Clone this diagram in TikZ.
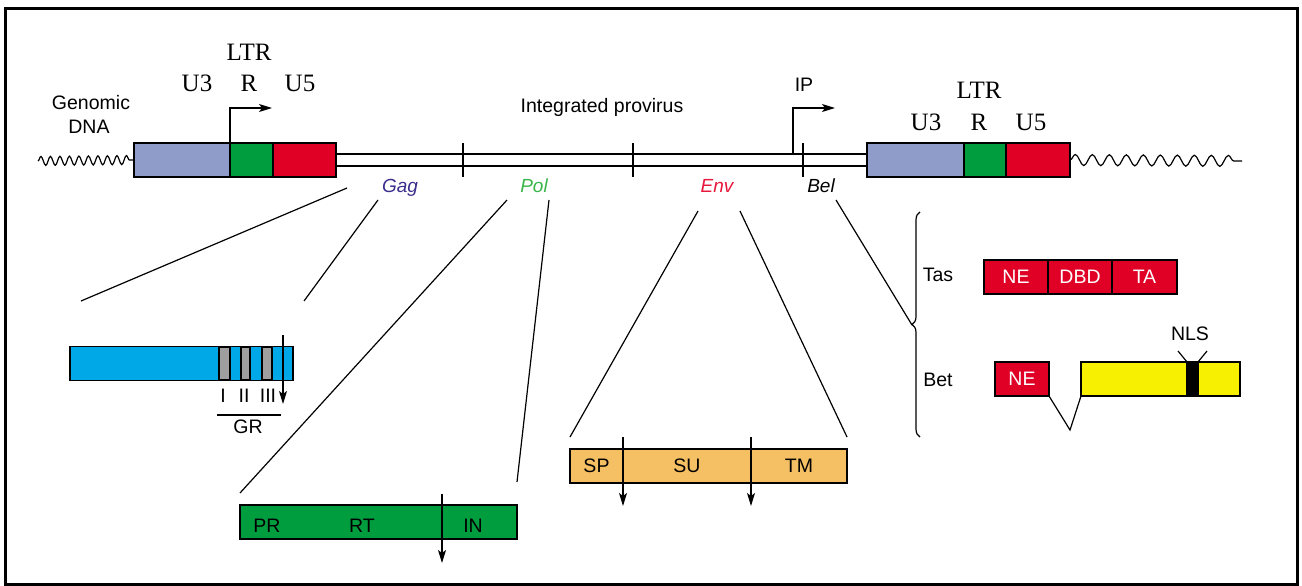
\documentclass[tikz,border=0pt]{standalone}
\usepackage{fontspec}
\setmainfont{Liberation Sans}
\newfontfamily\ltrfont{Liberation Serif}
\usetikzlibrary{arrows.meta,decorations.pathmorphing,decorations.pathreplacing}

\definecolor{ltrblue}{HTML}{8F9BC9}
\definecolor{ltrgreen}{HTML}{009D3F}
\definecolor{ltrred}{HTML}{E00026}
\definecolor{gagblue}{HTML}{00A8E8}
\definecolor{envorange}{HTML}{F5C063}
\definecolor{betyellow}{HTML}{F7F000}
\definecolor{gagtext}{HTML}{3B2E8C}
\definecolor{poltext}{HTML}{39B54A}
\definecolor{envtext}{HTML}{E8173C}

\tikzset{
	seg/.style={draw,line width=2pt,minimum height=34pt,inner sep=0pt,outer sep=0pt,anchor=west},
	dom/.style={draw,line width=1.3pt,minimum height=34pt,inner sep=0pt,outer sep=0pt,anchor=west,font=\fontsize{19.5}{23}\selectfont},
	txt/.style={font=\fontsize{19.5}{23}\selectfont,inner sep=0pt,anchor=base},
	serif/.style={font=\ltrfont\fontsize{25}{28}\selectfont,inner sep=0pt,anchor=base},
	gene/.style={font=\fontsize{19}{23}\selectfont\itshape,inner sep=0pt,anchor=base},
	fan/.style={line width=1.2pt},
	cut/.style={line width=1.3pt,-{Stealth[length=13pt,width=8pt,inset=3pt]}},
}

\begin{document}
\begin{tikzpicture}[x=1pt,y=-1pt]
	\useasboundingbox (0,0) rectangle (1302,586);
	\draw[line width=3.5pt] (5.5,8.5) rectangle (1297.5,584.5);

	\node[seg,fill=ltrblue,minimum width=96pt] (u3l) at (134,160) {};
	\node[seg,fill=ltrgreen,minimum width=43pt] (rl) at (u3l.east) {};
	\node[seg,fill=ltrred,minimum width=63pt] (u5l) at (rl.east) {};
	\node[seg,fill=ltrblue,minimum width=97pt] (u3r) at (867,160) {};
	\node[seg,fill=ltrgreen,minimum width=42pt] (rr) at (u3r.east) {};
	\node[seg,fill=ltrred,minimum width=64pt] (u5r) at (rr.east) {};
	\draw[double,double distance=10.5pt,line width=1.5pt] ([xshift=1pt]u5l.east) -- ([xshift=-1pt]u3r.west);
	\foreach \x in {463,633,803}
		\draw[line width=2pt] (\x,143) -- (\x,177);

	\coordinate (wavel) at (38,161);
	\coordinate (waver) at (1242,161);
	\draw[line width=1.2pt,decorate,decoration={snake,segment length=9.5pt,amplitude=4.5pt}] (wavel) -- (u3l.west);
	\draw[line width=1.2pt,decorate,decoration={snake,segment length=17pt,amplitude=5.5pt}] (u5r.east) -- (waver);

	\coordinate (tssl) at (272,108);
	\draw[cut] (rl.north west) |- (tssl);
	\coordinate (ipbase) at (793,154);
	\coordinate (ipend) at (835,108);
	\draw[cut] (ipbase) |- (ipend);

	\node[serif] (ltrlt) at (249,61) {LTR};
	\node[serif] (u3lt) at (197,92) {U3};
	\node[serif] (rlt) at (249,92) {R};
	\node[serif] (u5lt) at (300,92) {U5};
	\node[serif] (ltrrt) at (979,99) {LTR};
	\node[serif] (u3rt) at (926,130) {U3};
	\node[serif] (rrt) at (979,130) {R};
	\node[serif] (u5rt) at (1031,130) {U5};
	\node[txt] (genomic) at (91,110) {Genomic};
	\node[txt] (dna) at (89,133) {DNA};
	\node[txt] (intprov) at (602,113) {Integrated provirus};
	\node[txt] (ip) at (804,92) {IP};

	\node[gene,text=gagtext] (gag) at (400,192) {Gag};
	\node[gene,text=poltext] (pol) at (534,192) {Pol};
	\node[gene,text=envtext] (env) at (717,192) {Env};
	\node[gene] (bel) at (821,192) {Bel};

	\node[dom,fill=gagblue,minimum width=223pt] (gagbox) at (70,363.5) {};
	\foreach \a/\b in {219/230,241/250,262/272}
		\draw[line width=1.2pt,fill=gray!75] (\a,347) rectangle (\b,380);
	\draw[cut] (283,335) -- (283,404);
	\node[txt] (gr1) at (223,402) {I};
	\node[txt] (gr2) at (244,402) {II};
	\node[txt] (gr3) at (268,402) {III};
	\draw[line width=1.2pt] (217,415) -- (281,415);
	\node[txt] (gr) at (248,433) {GR};

	\node[dom,fill=ltrgreen,minimum width=277pt] (polbox) at (240,522) {};
	\node[txt] (pr) at (267,532) {PR};
	\node[txt] (rt) at (362,532) {RT};
	\node[txt] (in) at (473,532) {IN};
	\draw[cut] (442,494) -- (442,563);

	\node[dom,fill=envorange,minimum width=53pt] (sp) at (570,466) {SP};
	\node[dom,fill=envorange,minimum width=128pt] (su) at (sp.east) {SU};
	\node[dom,fill=envorange,minimum width=96pt] (tm) at (su.east) {TM};
	\draw[cut] ([yshift=12pt]sp.north east) -- ([yshift=-23pt]sp.south east);
	\draw[cut] ([yshift=12pt]su.north east) -- ([yshift=-23pt]su.south east);

	\coordinate (gagla) at (347,188);
	\coordinate (gaglb) at (81,301);
	\coordinate (gagra) at (378,200);
	\coordinate (gagrb) at (304,301);
	\coordinate (polla) at (507,200);
	\coordinate (polra) at (549,200);
	\coordinate (envla) at (698,211);
	\coordinate (envra) at (740,211);
	\coordinate (bela) at (836,200);
	\coordinate (bracetip) at (912,325);
	\draw[fan] (gagla) -- (gaglb);
	\draw[fan] (gagra) -- (gagrb);
	\draw[fan] (polla) -- ([yshift=12pt]polbox.north west);
	\draw[fan] (polra) -- ([yshift=23pt]polbox.north east);
	\draw[fan] (envla) -- ([yshift=12pt]sp.north west);
	\draw[fan] (envra) -- ([yshift=12pt]tm.north east);
	\draw[fan] (bela) -- (bracetip);
	\draw[line width=1.2pt,decorate,decoration={brace,amplitude=8pt}] (920,437) -- (920,212);

	\node[txt] (tas) at (938,281) {Tas};
	\node[dom,fill=ltrred,text=white,minimum width=64pt] (tasne) at (984,277) {NE};
	\node[dom,fill=ltrred,text=white,minimum width=64pt] (dbd) at (tasne.east) {DBD};
	\node[dom,fill=ltrred,text=white,minimum width=65pt] (ta) at (dbd.east) {TA};

	\node[txt] (bet) at (938,386) {Bet};
	\node[dom,fill=ltrred,text=white,minimum width=54pt] (betne) at (995,379) {NE};
	\node[dom,fill=betyellow,minimum width=159pt] (betorf) at (1081,379) {};
	\node[dom,fill=black,minimum width=11pt] (nlsbar) at (1187,379) {};
	\coordinate (splice) at (1070,430);
	\draw[fan] (betne.south east) -- (splice) -- (betorf.south west);
	\node[txt] (nls) at (1190,340) {NLS};
	\coordinate (nlsl) at (1178,351);
	\coordinate (nlsr) at (1207,351);
	\draw[fan] (nlsl) -- (nlsbar.north west);
	\draw[fan] (nlsr) -- (nlsbar.north east);
\end{tikzpicture}
\end{document}
